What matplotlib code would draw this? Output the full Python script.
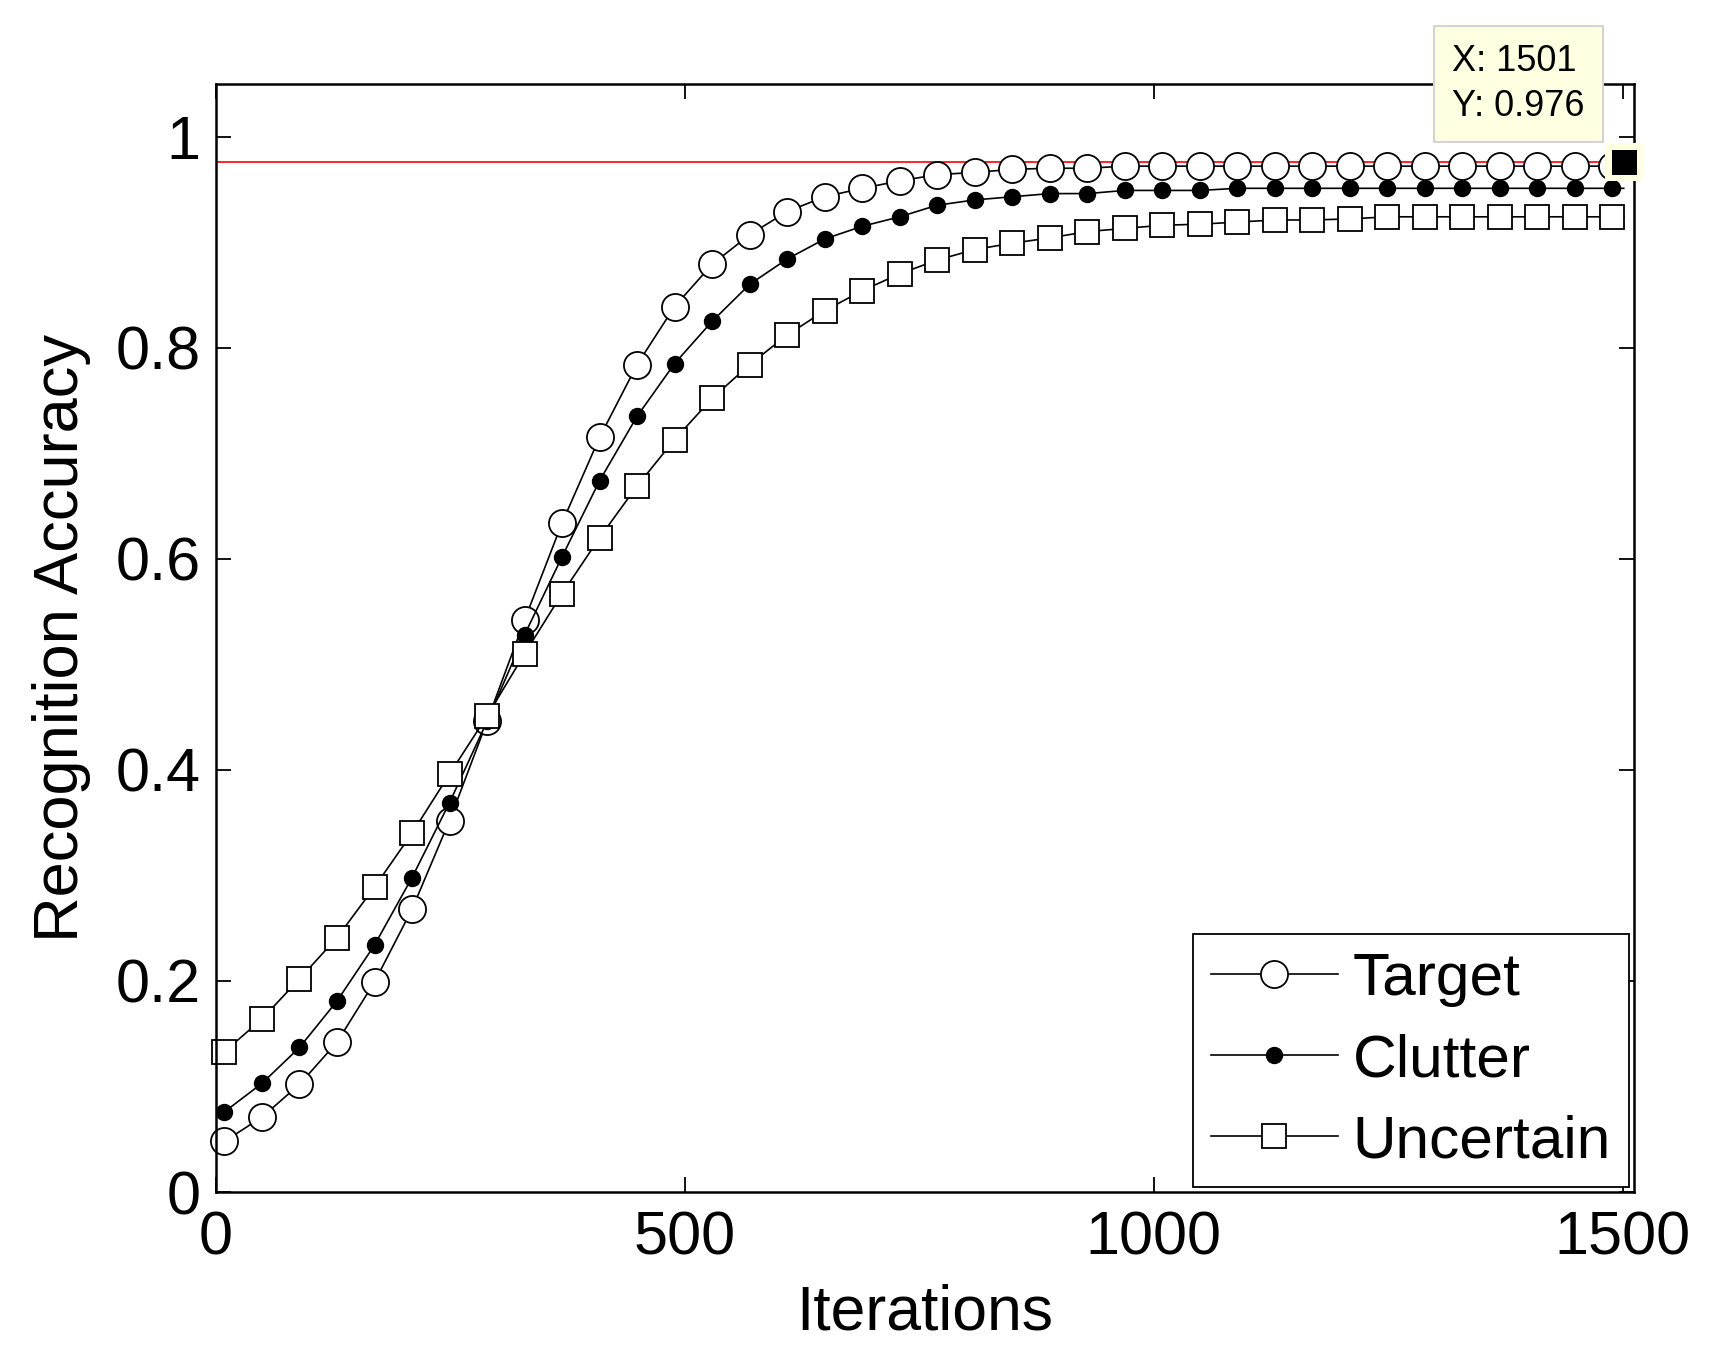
import matplotlib
matplotlib.use("Agg")
import matplotlib.pyplot as plt
import numpy as np
from matplotlib.ticker import FormatStrFormatter

plt.rcParams["font.family"] = ["Liberation Sans", "DejaVu Sans"]

# iterations where markers sit (every 40), plus the final point 1501
iters = np.array([9, 49, 89, 129, 169, 209, 249, 289, 329, 369, 409, 449, 489, 529,
                  569, 609, 649, 689, 729, 769, 809, 849, 889, 929, 969, 1009, 1049,
                  1089, 1129, 1169, 1209, 1249, 1289, 1329, 1369, 1409, 1449, 1489, 1501])

target = [0.048, 0.071, 0.102, 0.142, 0.199, 0.268, 0.352, 0.446, 0.542, 0.634,
          0.715, 0.784, 0.839, 0.879, 0.907, 0.929, 0.943, 0.951, 0.958, 0.964,
          0.966, 0.969, 0.970, 0.970, 0.972, 0.972, 0.972, 0.972, 0.972, 0.972,
          0.972, 0.972, 0.972, 0.972, 0.972, 0.972, 0.972, 0.972, 0.972]
clutter = [0.076, 0.103, 0.137, 0.181, 0.234, 0.298, 0.369, 0.446, 0.528, 0.602,
           0.674, 0.735, 0.785, 0.825, 0.860, 0.884, 0.903, 0.915, 0.924, 0.935,
           0.940, 0.943, 0.946, 0.946, 0.949, 0.949, 0.949, 0.951, 0.951, 0.951,
           0.951, 0.951, 0.951, 0.951, 0.951, 0.951, 0.951, 0.951, 0.951]
uncertain = [0.133, 0.164, 0.202, 0.241, 0.289, 0.340, 0.396, 0.451, 0.510, 0.567,
             0.620, 0.669, 0.713, 0.752, 0.784, 0.812, 0.835, 0.854, 0.870, 0.883,
             0.893, 0.899, 0.904, 0.910, 0.913, 0.916, 0.917, 0.919, 0.921, 0.921,
             0.922, 0.924, 0.924, 0.924, 0.924, 0.924, 0.924, 0.924, 0.924]

tip_x, tip_y = 1501, 0.976

fig = plt.figure(figsize=(17.2, 13.52), dpi=100)
ax = fig.add_axes([0.1256, 0.1183, 0.8244, 0.8197])

marks = slice(0, -1)
ax.plot(iters, target, color="black", lw=1.2, marker="o", ms=19.5, mfc="white",
        mec="black", mew=1.3, markevery=marks, label="Target", clip_on=False)
ax.plot(iters, clutter, color="black", lw=1.2, marker="o", ms=11.5, mfc="black",
        mec="black", markevery=marks, label="Clutter", clip_on=False)
ax.plot(iters, uncertain, color="black", lw=1.2, marker="s", ms=17.5, mfc="white",
        mec="black", mew=1.3, markevery=marks, label="Uncertain", clip_on=False)

ax.axhline(tip_y, color="red", lw=1.2, zorder=1)

# data tip
ax.plot(tip_x, tip_y, "s", ms=28, mew=0, color="#ffffe1", clip_on=False, zorder=5)
ax.plot(tip_x, tip_y, "s", ms=18, mew=0, color="black", clip_on=False, zorder=6)
ax.annotate(f"X: {tip_x}\nY: {tip_y}", xy=(tip_x, tip_y), xytext=(-39, 38),
            textcoords="offset pixels", ha="right", va="bottom", multialignment="left",
            fontsize=26, linespacing=1.38, annotation_clip=False, zorder=7,
            bbox=dict(boxstyle="square,pad=0.5", fc="#ffffe1", ec="#d4d4d4", lw=1.5))

ax.set_xlim(0, 1512)
ax.set_ylim(0, 1.05)
ax.set_xticks([0, 500, 1000, 1500])
ax.set_yticks([0, 0.2, 0.4, 0.6, 0.8, 1.0])
ax.yaxis.set_major_formatter(FormatStrFormatter("%g"))
ax.tick_params(direction="in", length=11, width=1.3, labelsize=44,
               top=True, right=True)
ax.tick_params(axis="y", pad=11)
ax.tick_params(axis="x", pad=13)
for s in ax.spines.values():
    s.set_linewidth(1.8)

ax.set_xlabel("Iterations", fontsize=45, labelpad=12)
ax.set_ylabel("Recognition Accuracy", fontsize=45.5, labelpad=18)

leg = ax.legend(loc="lower right", fontsize=43.5, fancybox=False, edgecolor="black",
                framealpha=1, handlelength=2.1, labelspacing=0.43,
                borderaxespad=0.08, handletextpad=0.25, borderpad=0.3)
leg.get_frame().set_linewidth(1.3)

fig.savefig("out.png", dpi=100, facecolor="white")
